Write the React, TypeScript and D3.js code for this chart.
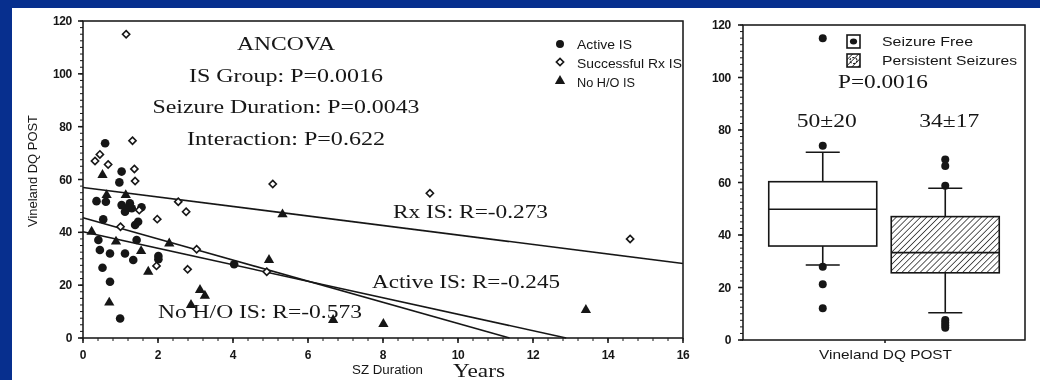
import React from "react";
import * as d3 from "d3";

// Scatter: Vineland DQ POST vs seizure duration (years), by IS group
const activeIS: [number, number][] = [
  [0.59, 73.7], [1.03, 63], [0.97, 58.9], [0.36, 51.8], [0.61, 51.6], [1.03, 50.3],
  [1.16, 49.1], [1.3, 49.1], [1.12, 47.8], [1.56, 49.5], [1.25, 51], [0.54, 44.9],
  [1.39, 42.8], [1.47, 44], [0.41, 37.1], [0.45, 33.3], [0.72, 32], [1.12, 32],
  [1.34, 29.5], [1.43, 37.1], [0.52, 26.6], [0.72, 21.3], [0.99, 7.4], [2.01, 31],
  [2.01, 29.8], [4.03, 27.9],
];
const successfulRxIS: [number, number][] = [
  [1.15, 115], [1.32, 74.7], [0.45, 69.5], [0.32, 67], [0.67, 65.7], [1.37, 64],
  [1.39, 59.4], [5.06, 58.3], [9.25, 54.8], [14.59, 37.5], [2.54, 51.6], [2.75, 47.8],
  [1.5, 48.4], [1.0, 42.1], [1.98, 45], [1.96, 27.3], [3.03, 33.6], [2.79, 26], [4.9, 25.1],
];
const noHOIS: [number, number][] = [
  [0.52, 61.7], [0.63, 54.1], [1.14, 54.1], [0.23, 40.2], [0.88, 36.5], [1.55, 32.9],
  [0.7, 13.4], [1.74, 25.1], [2.3, 35.8], [3.12, 18.2], [3.25, 16], [2.88, 12.5],
  [5.32, 46.8], [4.96, 29.5], [6.67, 6.8], [8.01, 5.3], [13.41, 10.6],
];

// Fitted lines: intercept and slope
const fitNames = ["Rx IS", "Active IS", "No H/O IS"];
const fitIntercepts = [57, 45.5, 40.2];
const fitSlopes = [-1.8, -4.0, -3.12];

const xTicks = [0, 2, 4, 6, 8, 10, 12, 14, 16];
const yTicks = [0, 20, 40, 60, 80, 100, 120];

const ancovaLines = [
  "ANCOVA",
  "IS Group:  P=0.0016",
  "Seizure Duration:  P=0.0043",
  "Interaction:  P=0.622",
];
const ancovaWidths = [98, 194, 267, 198];
const legendLabels = ["Active IS", "Successful Rx IS", "No H/O IS"];
const legendWidths = [55, 105, 58];

// Box plot summaries
const groups = ["Seizure Free", "Persistent Seizures"];
const groupWidths = [91, 135];
const groupMeans = ["50±20", "34±17"];
const q1 = [35.8, 25.6];
const medians = [49.8, 33.3];
const q3 = [60.3, 47];
const whiskerLow = [28.6, 10.4];
const whiskerHigh = [71.5, 57.8];
const outliers = [
  [115, 74, 27.9, 21.2, 12.1],
  [68.8, 66.3, 58.8, 7.6, 6.6, 5.6, 4.7],
];

const SANS = "'Liberation Sans', Arial, sans-serif";
const SERIF = "'Liberation Serif', 'Times New Roman', serif";
const INK = "#161616";

type SerifProps = { x: number; y: number; w: number; size?: number; children: React.ReactNode };
function SerifText({ x, y, w, size = 19, children }: SerifProps) {
  return (
    <text
      x={x - w / 2}
      y={y}
      textLength={w}
      lengthAdjust="spacingAndGlyphs"
      fontFamily={SERIF}
      fontSize={size}
      fill={INK}
    >
      {children}
    </text>
  );
}

export default function App() {
  const x = d3.scaleLinear().domain([0, 16]).range([83, 683]);
  const y = d3.scaleLinear().domain([0, 120]).range([338, 21]);
  const yR = d3.scaleLinear().domain([0, 120]).range([340, 25]);
  const xR = d3.scalePoint<string>().domain(groups).range([743, 1025]).padding(0.651);
  const boxW = 108;

  const minorY = d3.range(0, 120.01, 2.5);
  const minorX = d3.range(0, 16.01, 0.4);

  const tri = d3.symbol().type(d3.symbolTriangle).size(46)()!;
  const dia = "M0,-3.6L3.6,0L0,3.6L-3.6,0Z";

  const fitSegments = fitNames.map((n, i) => {
    const b0 = fitIntercepts[i];
    const b1 = fitSlopes[i];
    const xEnd = Math.min(16, -b0 / b1);
    const line = d3.line<number>().x((v) => x(v)).y((v) => y(b0 + b1 * v));
    return { n, d: line([0, xEnd])! };
  });

  const tickText = {
    fontFamily: SANS,
    fontWeight: "bold" as const,
    fontSize: 12,
    letterSpacing: -0.3,
    fill: INK,
  };

  return (
    <svg
      width={1040}
      height={380}
      style={{ position: "absolute", left: 0, top: 0, display: "block" }}
    >
      <defs>
        <pattern id="hatch" patternUnits="userSpaceOnUse" width={4.3} height={4.3} patternTransform="rotate(45)">
          <rect width={4.3} height={4.3} fill="#fff" />
          <line x1={0} y1={0} x2={0} y2={4.3} stroke="#222" strokeWidth={1.5} />
        </pattern>
        <filter id="soft">
          <feGaussianBlur stdDeviation={0.35} />
        </filter>
      </defs>
      <rect width={1040} height={380} fill="#072f8e" />
      <rect x={12} y={8} width={1028} height={372} fill="#fff" />

      <g filter="url(#soft)">
        {/* ---------- Left panel: scatter ---------- */}
        <rect x={83} y={21} width={600} height={317} fill="none" stroke={INK} strokeWidth={1.5} />
        {minorY.map((v) => (
          <line key={"my" + v} x1={80} x2={83} y1={y(v)} y2={y(v)} stroke={INK} strokeWidth={1} />
        ))}
        {yTicks.map((v) => (
          <g key={"yt" + v}>
            <line x1={78} x2={83} y1={y(v)} y2={y(v)} stroke={INK} strokeWidth={1.5} />
            <text x={72} y={y(v) + 4} textAnchor="end" {...tickText}>
              {v}
            </text>
          </g>
        ))}
        {minorX.map((v) => (
          <line key={"mx" + v} x1={x(v)} x2={x(v)} y1={338} y2={341} stroke={INK} strokeWidth={1} />
        ))}
        {xTicks.map((v) => (
          <g key={"xt" + v}>
            <line x1={x(v)} x2={x(v)} y1={338} y2={343} stroke={INK} strokeWidth={1.5} />
            <text x={x(v)} y={359} textAnchor="middle" {...tickText}>
              {v}
            </text>
          </g>
        ))}
        <text
          transform="translate(37,227) rotate(-90)"
          textLength={112}
          lengthAdjust="spacingAndGlyphs"
          fontFamily={SANS}
          fontSize={12}
          fill={INK}
        >
          Vineland DQ POST
        </text>
        <text x={352} y={374} textLength={71} lengthAdjust="spacingAndGlyphs" fontFamily={SANS} fontSize={12} fill={INK}>
          SZ Duration
        </text>
        <SerifText x={479} y={377} w={52} size={18}>
          Years
        </SerifText>

        {fitSegments.map((s) => (
          <path key={s.n} d={s.d} fill="none" stroke={INK} strokeWidth={1.6} />
        ))}

        {activeIS.map(([a, b], i) => (
          <circle key={"a" + i} cx={x(a)} cy={y(b)} r={4.3} fill={INK} />
        ))}
        {successfulRxIS.map(([a, b], i) => (
          <path key={"r" + i} d={dia} transform={`translate(${x(a)},${y(b)})`} fill="#fff" stroke={INK} strokeWidth={1.6} />
        ))}
        {noHOIS.map(([a, b], i) => (
          <path key={"n" + i} d={tri} transform={`translate(${x(a)},${y(b)})`} fill={INK} />
        ))}

        {ancovaLines.map((t, i) => (
          <SerifText key={t} x={286} y={50 + i * 31.7} w={ancovaWidths[i]}>
            {t}
          </SerifText>
        ))}
        <SerifText x={470.5} y={218} w={155}>
          Rx IS: R=-0.273
        </SerifText>
        <SerifText x={466} y={288} w={188}>
          Active IS: R=-0.245
        </SerifText>
        <SerifText x={260} y={318} w={204}>
          No H/O IS: R=-0.573
        </SerifText>

        {/* legend */}
        <circle cx={560} cy={44} r={4} fill={INK} />
        <path d={dia} transform="translate(560,62)" fill="#fff" stroke={INK} strokeWidth={1.6} />
        <path d={tri} transform="translate(560,81)" fill={INK} />
        {legendLabels.map((t, i) => (
          <text
            key={t}
            x={577}
            y={48.5 + i * 19}
            textLength={legendWidths[i]}
            lengthAdjust="spacingAndGlyphs"
            fontFamily={SANS}
            fontSize={13}
            fill={INK}
          >
            {t}
          </text>
        ))}

        {/* ---------- Right panel: box plot ---------- */}
        <rect x={743} y={25} width={282} height={315} fill="none" stroke={INK} strokeWidth={1.5} />
        {minorY.map((v) => (
          <line key={"rmy" + v} x1={740} x2={743} y1={yR(v)} y2={yR(v)} stroke={INK} strokeWidth={1} />
        ))}
        {yTicks.map((v) => (
          <g key={"ryt" + v}>
            <line x1={738} x2={743} y1={yR(v)} y2={yR(v)} stroke={INK} strokeWidth={1.5} />
            <text x={731} y={yR(v) + 4} textAnchor="end" {...tickText}>
              {v}
            </text>
          </g>
        ))}
        <line x1={885} x2={885} y1={340} y2={343} stroke={INK} strokeWidth={1.5} />
        <text x={819} y={359} textLength={133} lengthAdjust="spacingAndGlyphs" fontFamily={SANS} fontSize={13} fill={INK}>
          Vineland DQ POST
        </text>

        {groups.map((g, i) => {
          const cx = xR(g)!;
          return (
            <g key={g}>
              <line x1={cx} x2={cx} y1={yR(q3[i])} y2={yR(whiskerHigh[i])} stroke={INK} strokeWidth={1.6} />
              <line x1={cx} x2={cx} y1={yR(q1[i])} y2={yR(whiskerLow[i])} stroke={INK} strokeWidth={1.6} />
              <line x1={cx - 17} x2={cx + 17} y1={yR(whiskerHigh[i])} y2={yR(whiskerHigh[i])} stroke={INK} strokeWidth={1.6} />
              <line x1={cx - 17} x2={cx + 17} y1={yR(whiskerLow[i])} y2={yR(whiskerLow[i])} stroke={INK} strokeWidth={1.6} />
              <rect
                x={cx - boxW / 2}
                y={yR(q3[i])}
                width={boxW}
                height={yR(q1[i]) - yR(q3[i])}
                fill={i === 0 ? "#fff" : "url(#hatch)"}
                stroke={INK}
                strokeWidth={1.6}
              />
              <line x1={cx - boxW / 2} x2={cx + boxW / 2} y1={yR(medians[i])} y2={yR(medians[i])} stroke={INK} strokeWidth={1.6} />
              {outliers[i].map((v, k) => (
                <circle key={k} cx={cx} cy={yR(v)} r={4} fill={INK} />
              ))}
              <SerifText x={cx + 4} y={127} w={60}>
                {groupMeans[i]}
              </SerifText>
            </g>
          );
        })}
        <SerifText x={883} y={88} w={90}>
          P=0.0016
        </SerifText>

        {/* box legend */}
        <rect x={847} y={35} width={13} height={13} fill="#fff" stroke={INK} strokeWidth={1.6} />
        <ellipse cx={853.5} cy={41.5} rx={3.6} ry={3} fill={INK} />
        <rect x={847} y={54} width={13} height={13} fill="url(#hatch)" stroke={INK} strokeWidth={1.6} />
        <ellipse cx={853.5} cy={60.5} rx={3.6} ry={3} fill="none" stroke={INK} strokeWidth={1.2} strokeDasharray="2 1.5" />
        {groups.map((g, i) => (
          <text
            key={"lg" + g}
            x={882}
            y={46 + i * 19}
            textLength={groupWidths[i]}
            lengthAdjust="spacingAndGlyphs"
            fontFamily={SANS}
            fontSize={12.5}
            fill={INK}
          >
            {g}
          </text>
        ))}
      </g>
    </svg>
  );
}
